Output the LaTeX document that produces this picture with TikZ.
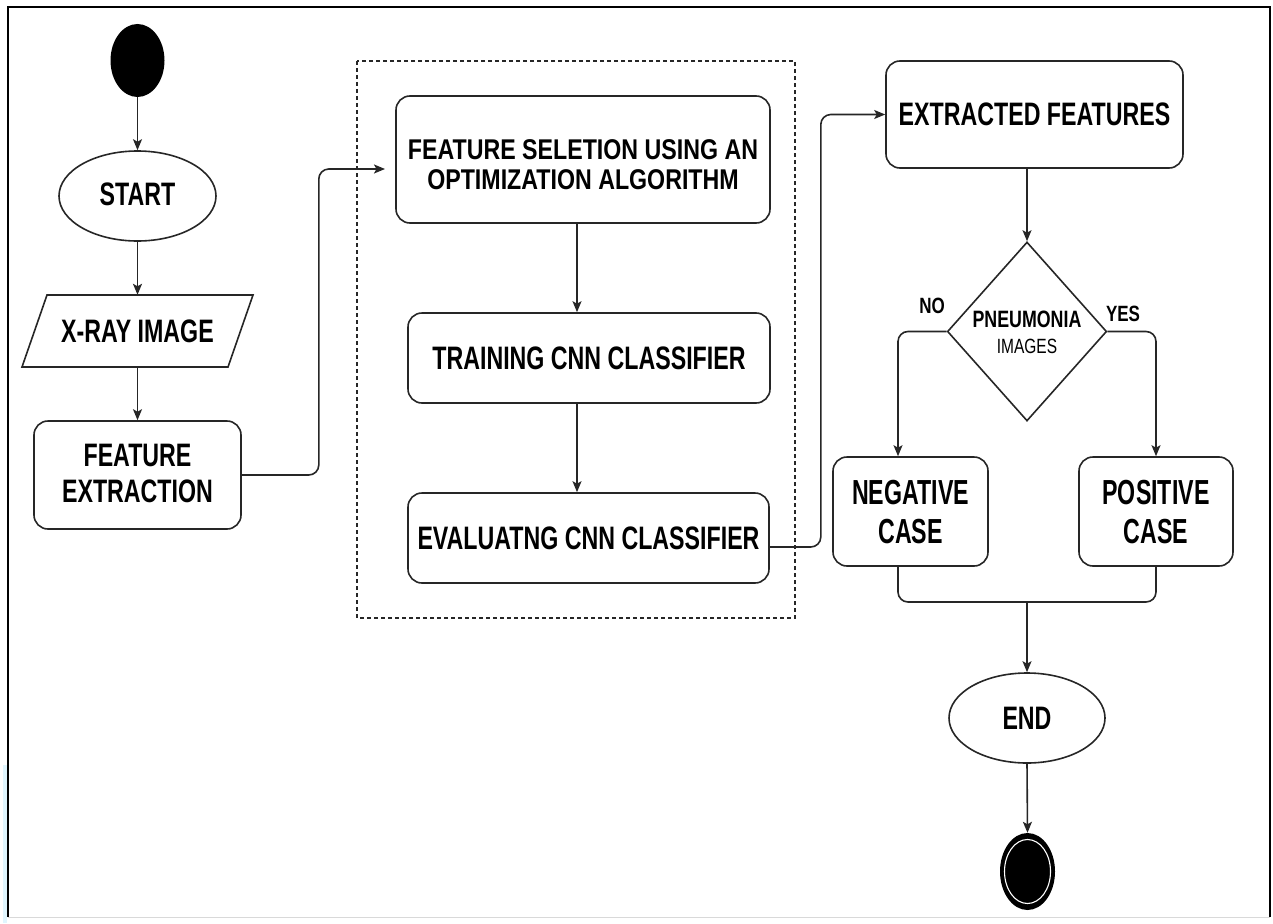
\documentclass[tikz,border=0pt]{standalone}
\usepackage{fontspec}
\setmainfont{Liberation Sans}
\usepackage{graphicx}
\usetikzlibrary{shapes.geometric,arrows.meta,calc}
\newcommand{\lblx}[3]{\raisebox{-#2}[\height][\depth]{\scalebox{1}[#1]{\begin{tabular}{@{}c@{}}#3\end{tabular}}}}
\newcommand{\lbl}[2][1.4]{\lblx{#1}{4pt}{#2}}
\begin{document}
\begin{tikzpicture}[x=1pt,y=-1pt,
  ln/.style={line width=1.6pt, draw=black!85},
  bigfont/.style={font=\bfseries\fontsize{23.2}{26}\selectfont},
  box/.style={ln, rounded corners=14pt, inner sep=0pt, bigfont},
  oval/.style={ln, ellipse, inner sep=0pt, bigfont},
  arr/.style={ln, -{Stealth[length=11pt,width=9pt,inset=2.5pt]}},
  conn/.style={arr, rounded corners=10pt},
  lab/.style={inner sep=0pt, font=\bfseries\fontsize{17}{20}\selectfont}]
\useasboundingbox (0,0) rectangle (1273,923);
% frame
\fill[cyan!12] (3,765) rectangle (7,923);
\draw[black!15, line width=1pt] (8,917) -- (1270,917);
\draw[line width=1.5pt] (8,917) -- (8,7) -- (1270,7) -- (1270,917);
% left column
\node[ellipse, fill=black, minimum width=54, minimum height=73, inner sep=0pt] (init) at (137.5,60.5) {};
\node[oval, minimum width=157, minimum height=90] (start) at (137.5,196) {\lblx{1.4}{2pt}{START}};
\node[inner sep=0pt, minimum width=206, minimum height=72, bigfont] (xray) at (137.5,331) {\lbl{X-RAY IMAGE}};
\draw[ln] (22,367) -- (47,295) -- (253,295) -- (228,367) -- cycle;
\node[box, minimum width=207, minimum height=108] (fe) at (137.5,475) {\lblx{1.4}{2pt}{FEATURE\\EXTRACTION}};
% dashed group
\draw[black!85, line width=1.2pt, dash pattern=on 4pt off 3pt] (357,61) rectangle (795,618);
\node[box, minimum width=374, minimum height=127, font=\bfseries\fontsize{23.2}{24.5}\selectfont] (fs) at (583,159.5) {\lblx{1.23}{9pt}{FEATURE SELETION USING AN\\OPTIMIZATION ALGORITHM}};
\node[box, minimum width=362, minimum height=90] (tr) at (589,358) {\lbl{TRAINING CNN CLASSIFIER}};
\node[box, minimum width=361, minimum height=90] (ev) at (588.5,538) {\lbl{EVALUATNG CNN CLASSIFIER}};
% right column
\node[box, minimum width=297, minimum height=107] (ef) at (1034.5,114.5) {\lbl{EXTRACTED FEATURES}};
\node[ln, diamond, minimum width=153, minimum height=179, inner sep=0pt, font=\fontsize{17}{19}\selectfont] (dia) at (1027,331.5)
  {\raisebox{-4pt}[\height][\depth]{\scalebox{1}[1.33]{\begin{tabular}{@{}c@{}}\bfseries\fontsize{17.8}{19}\selectfont PNEUMONIA\\\fontsize{15.5}{19}\selectfont IMAGES\end{tabular}}}};
\node[lab] (no) at (932,306) {\scalebox{1}[1.3]{NO}};
\node[lab] (yes) at (1123,314) {\scalebox{1}[1.3]{YES}};
\node[box, minimum width=155, minimum height=109] (neg) at (910.5,511.5) {\lblx{1.5}{5pt}{NEGATIVE\\CASE}};
\node[box, minimum width=154, minimum height=109] (pos) at (1156,511.5) {\lblx{1.5}{5pt}{POSITIVE\\CASE}};
\node[oval, minimum width=156, minimum height=90] (endE) at (1027,718) {\lbl{END}};
\node[ellipse, fill=black, minimum width=55, minimum height=77, inner sep=0pt] (fin) at (1027.5,871.5) {};
\draw[white, line width=1.1pt] (fin.center) ellipse [x radius=23, y radius=32];
% connectors
\coordinate (fsin) at (385,169);
\coordinate (c577) at (577,0);
\coordinate (c1027) at (1027,0);
\coordinate (c898) at (898,0);
\coordinate (mrg) at (1027,602);
\draw[arr] (init) -- (start);
\draw[arr] (start) -- (xray.north);
\draw[arr] (xray.south) -- (fe);
\draw[conn] (fe.east) -- ++(77,0) |- (fsin);
\draw[arr] (fs.south -| c577) -- (tr.north -| c577);
\draw[arr] (tr.south -| c577) -- (ev.north -| c577);
\draw[conn] ([yshift=-9pt]ev.east) -- ++(51,0) |- (ef.west);
\draw[arr] (ef.south -| c1027) -- (dia.north);
\draw[conn] (dia.west) -| (neg.north -| c898);
\draw[conn] (dia.east) -| (pos.north);
\draw[ln, rounded corners=10pt] (neg.south -| c898) |- (mrg) -| (pos.south);
\draw[arr] (mrg) -- (endE.north);
\draw[arr] (endE.south) -- (fin.north);
\end{tikzpicture}
\end{document}
